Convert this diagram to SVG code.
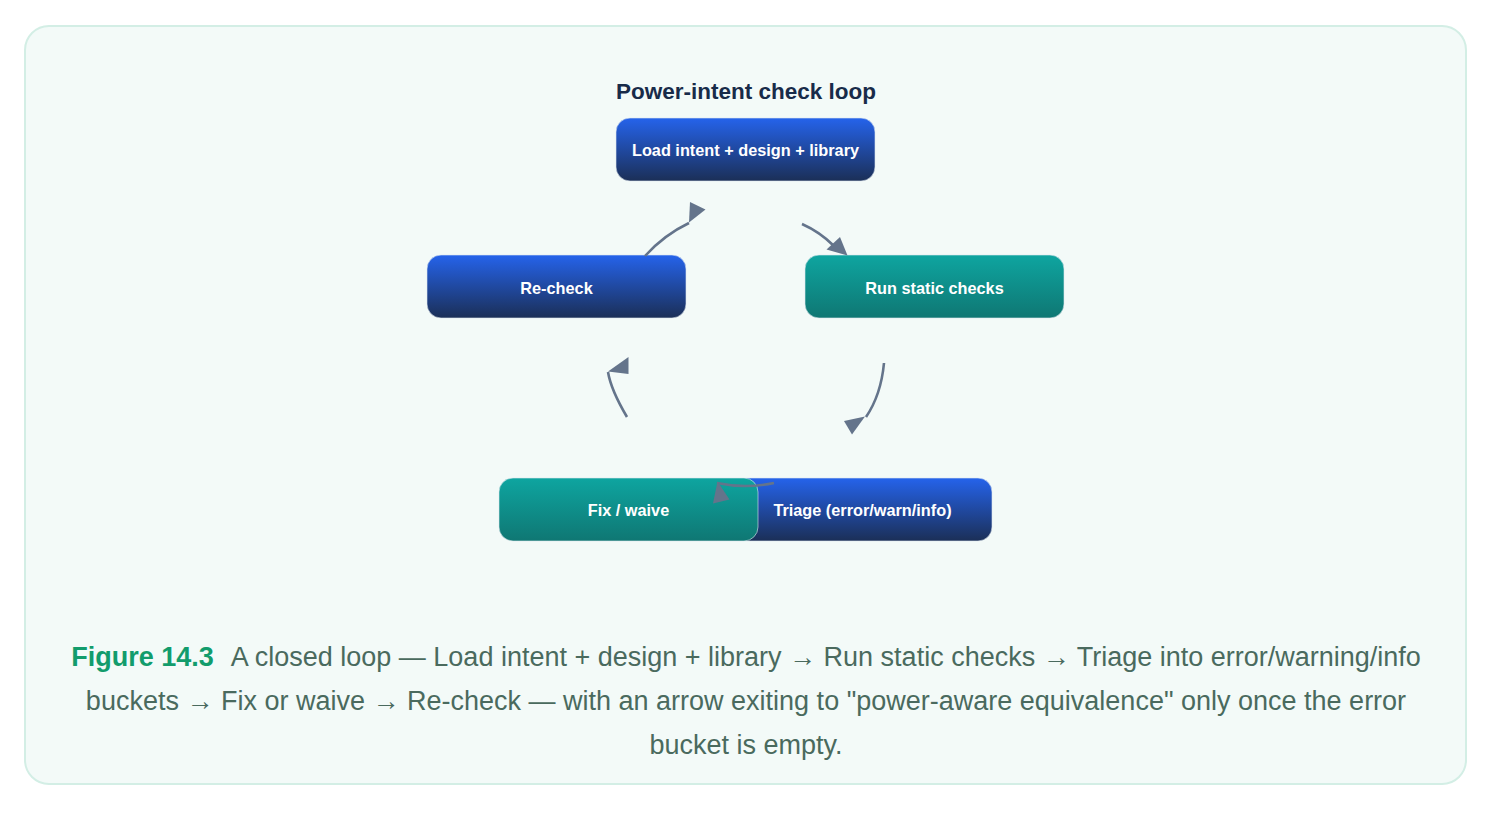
<svg xmlns="http://www.w3.org/2000/svg" width="1494" height="813" viewBox="0 0 1494 813">
<defs>
<linearGradient id="gBlue" x1="0" y1="0" x2="0" y2="1">
<stop offset="0" stop-color="#2563eb"/>
<stop offset="1" stop-color="#1b2f57"/>
</linearGradient>
<linearGradient id="gTeal" x1="0" y1="0" x2="0" y2="1">
<stop offset="0" stop-color="#0ea5a0"/>
<stop offset="1" stop-color="#0f7773"/>
</linearGradient>
</defs>
<style>
.frame{fill:#f3faf8;stroke:#d3eee5;stroke-width:2}
.title{font-family:"Liberation Sans",Arial,sans-serif;font-weight:bold;font-size:22.5px;fill:#182b49}
.nb{fill:url(#gBlue);stroke:#dfe7ef;stroke-opacity:0.6;stroke-width:1}
.nt{fill:url(#gTeal);stroke:#dfe7ef;stroke-opacity:0.6;stroke-width:1}
.lbl{font-family:"Liberation Sans",Arial,sans-serif;font-weight:bold;font-size:16.3px;fill:#ffffff}
.edge{fill:none;stroke:#64748b;stroke-width:2.6;stroke-linecap:butt}
.head{fill:#64748b}
.cap{font-family:"Liberation Sans",Arial,sans-serif;font-size:27px;fill:#4a6a5e}
.fig{font-weight:bold;fill:#129c6c}
.arr{fill:#4a6a5e}
</style>
<rect class="frame" x="25" y="26" width="1441" height="758" rx="24"/>
<text class="title" x="746" y="99" text-anchor="middle">Power-intent check loop</text>

<g id="node-load">
<rect class="nb" x="616" y="118" width="259" height="63" rx="14"/>
<text class="lbl" x="745.5" y="155.5" text-anchor="middle">Load intent + design + library</text>
</g>
<g id="node-recheck">
<rect class="nb" x="427" y="255" width="259" height="63" rx="14"/>
<text class="lbl" x="556.5" y="293.5" text-anchor="middle">Re-check</text>
</g>
<g id="node-run">
<rect class="nt" x="805" y="255" width="259" height="63" rx="14"/>
<text class="lbl" x="934.5" y="293.5" text-anchor="middle">Run static checks</text>
</g>
<g id="node-triage">
<rect class="nb" x="733" y="478" width="259" height="63" rx="14"/>
<text class="lbl" x="862.5" y="516" text-anchor="middle">Triage (error/warn/info)</text>
</g>
<g id="node-fix">
<rect class="nt" x="499" y="478" width="259" height="63" rx="14"/>
<text class="lbl" x="628.5" y="516" text-anchor="middle">Fix / waive</text>
</g>

<g id="connectors">
<path class="edge" d="M645,256 Q664,235 689,223"/>
<polygon class="head" points="690,202 705.5,209.5 689,222.5"/>
<path class="edge" d="M802,224 Q820,232 834,246"/>
<polygon class="head" points="826.5,249.5 840,237 847.5,255.5"/>
<path class="edge" d="M884,363 Q881,395 866,417"/>
<polygon class="head" points="844,421 865,416.5 852,434.5"/>
<path class="edge" d="M627,417 Q611,390 608,372"/>
<polygon class="head" points="608,371.5 628.5,357 628.5,374"/>
<path class="edge" d="M774,483 Q745,489 717,483"/>
<polygon class="head" points="717.5,481.5 713,503.5 729.5,499.5"/>
</g>

<g id="caption">
<text class="cap" x="746" y="666" text-anchor="middle"><tspan class="fig">Figure 14.3</tspan><tspan dx="17">A closed loop — Load intent + design + library </tspan><tspan class="arr">→</tspan><tspan> Run static checks </tspan><tspan class="arr">→</tspan><tspan> Triage into error/warning/info</tspan></text>
<text class="cap" x="746" y="710" text-anchor="middle"><tspan>buckets </tspan><tspan class="arr">→</tspan><tspan> Fix or waive </tspan><tspan class="arr">→</tspan><tspan> Re-check — with an arrow exiting to "power-aware equivalence" only once the error</tspan></text>
<text class="cap" x="746" y="754" text-anchor="middle">bucket is empty.</text>
</g>
</svg>
